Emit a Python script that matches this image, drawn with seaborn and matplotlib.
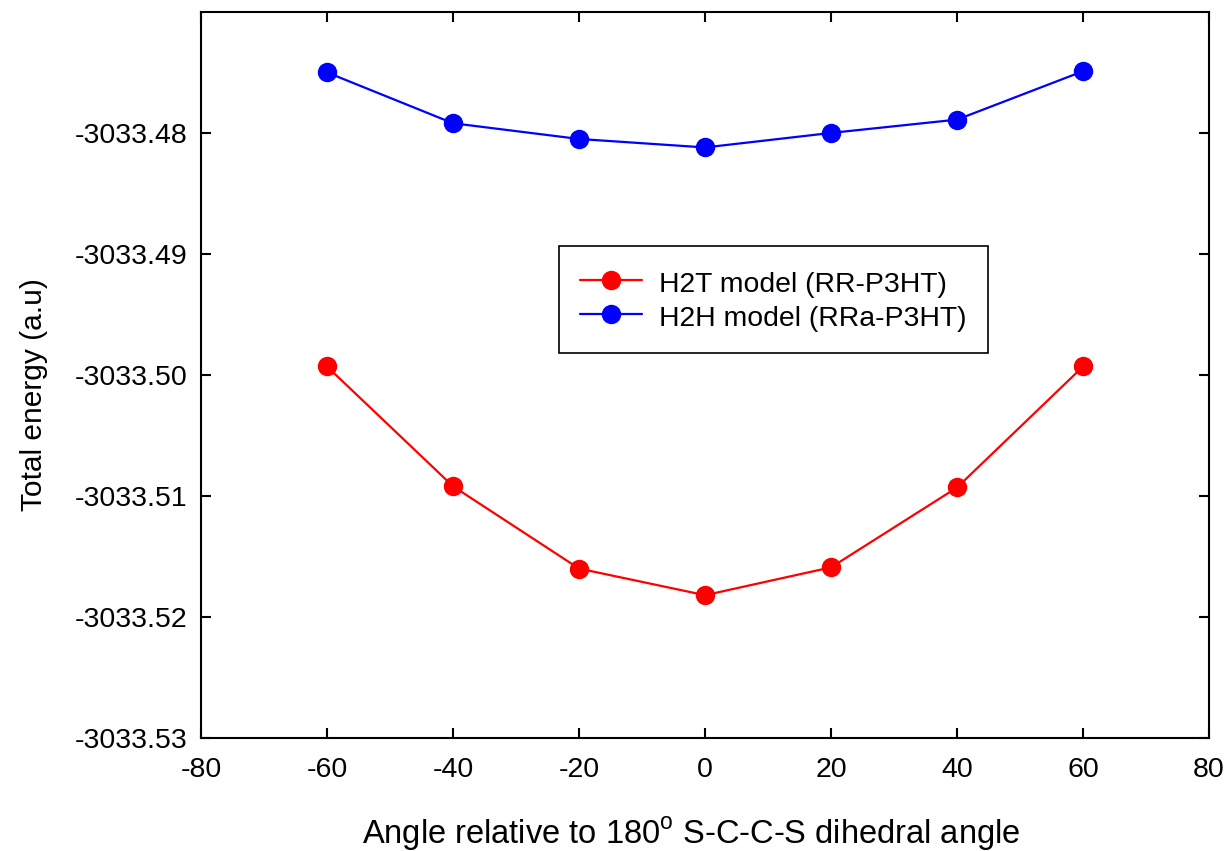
import matplotlib
matplotlib.use("Agg")
import matplotlib.pyplot as plt
import pandas as pd
import seaborn as sns

angles = [-60, -40, -20, 0, 20, 40, 60]
h2t_energy = [-3033.4993, -3033.5092, -3033.5160, -3033.5182, -3033.5159, -3033.5093, -3033.4993]
h2h_energy = [-3033.4750, -3033.4792, -3033.4805, -3033.4812, -3033.4800, -3033.4789, -3033.4749]
y_ticks = [-3033.53, -3033.52, -3033.51, -3033.50, -3033.49, -3033.48]
y_tick_labels = ["-3033.53", "-3033.52", "-3033.51", "-3033.50", "-3033.49", "-3033.48"]
x_ticks = [-80, -60, -40, -20, 0, 20, 40, 60, 80]

df = pd.DataFrame({
    "angle": angles * 2,
    "energy": h2t_energy + h2h_energy,
    "model": ["H2T model (RR-P3HT)"] * 7 + ["H2H model (RRa-P3HT)"] * 7,
})

sns.set_style("white")
plt.rcParams['font.family'] = ['Liberation Sans', 'DejaVu Sans']
plt.rcParams['text.color'] = 'black'
plt.rcParams['axes.labelcolor'] = 'black'

fig = plt.figure(figsize=(12.3, 8.51), dpi=100)
ax = fig.add_axes([0.1634, 0.1328, 0.8196, 0.8532])

sns.lineplot(data=df, x="angle", y="energy", hue="model",
             palette={"H2T model (RR-P3HT)": "#ff0000", "H2H model (RRa-P3HT)": "#0000ff"},
             marker="o", markersize=14, markeredgewidth=0, linewidth=1.6, ax=ax)

ax.set_xlim(-80, 80)
ax.set_ylim(-3033.53, -3033.47)
ax.set_xticks(x_ticks)
ax.set_xticklabels([str(t) for t in x_ticks])
ax.set_yticks(y_ticks)
ax.set_yticklabels(y_tick_labels)
ax.tick_params(direction="in", length=7, width=1.5, labelsize=20.5, top=True, right=True,
               bottom=True, left=True, colors="black")
ax.tick_params(axis="x", pad=14)
ax.tick_params(axis="y", pad=10)
for s in ax.spines.values():
    s.set_color("black")
    s.set_linewidth(1.5)

ax.set_xlabel("Angle relative to 180$^{\\mathregular{o}}$ S-C-C-S dihedral angle", fontsize=23.5)
ax.set_ylabel("Total energy (a.u)", fontsize=21.5)
ax.xaxis.set_label_coords(0.486, -0.106)
ax.yaxis.set_label_coords(-0.152, 0.4725)

leg = ax.legend(loc="upper left", bbox_to_anchor=(0.355, 0.677), fontsize=20.4, frameon=True,
                fancybox=False, edgecolor="black", framealpha=1, borderpad=0.75,
                handlelength=2.2, handleheight=1.2, handletextpad=0.6, labelspacing=0.15,
                borderaxespad=0)
leg.get_frame().set_linewidth(1.2)

fig.savefig("out.png", dpi=100)
